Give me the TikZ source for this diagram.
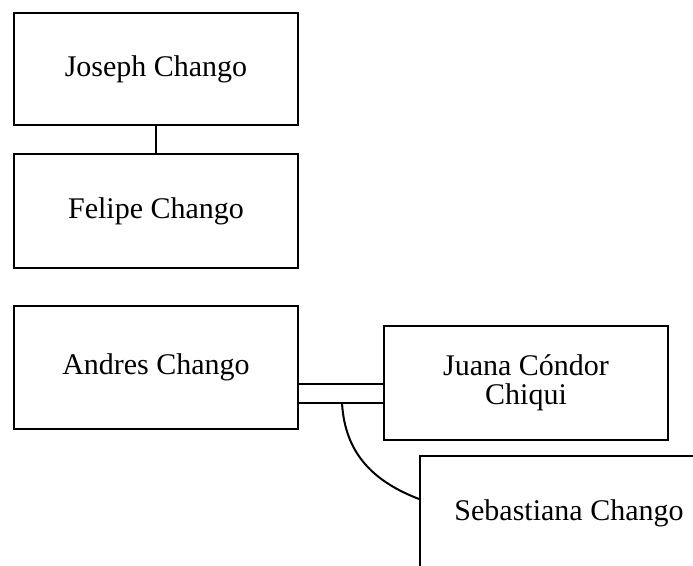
\documentclass[tikz,border=0pt]{standalone}
\usepackage{fontspec}
\setmainfont{Liberation Serif}
\begin{document}
\begin{tikzpicture}[x=1pt,y=-1pt,
  person/.style={draw,line width=2pt,rectangle,inner sep=0pt,align=center,
    font=\fontsize{30}{29}\selectfont,minimum width=284pt},
  link/.style={line width=2pt}]
\useasboundingbox (0,0) rectangle (693,565);
\node[person,minimum height=112pt] (joseph) at (156,69) {Joseph Chango};
\node[person,minimum height=114pt] (felipe) at (156,211) {Felipe Chango};
\node[person,minimum height=123pt] (andres) at (156,367.5) {Andres Chango};
\node[person,minimum height=114pt] (juana) at (526,383) {Juana Cóndor\\Chiqui};
\node[person,minimum height=114pt,minimum width=298pt] (seb) at (569,513) {Sebastiana Chango};
\draw[link] (joseph.south) -- (felipe.north);
\coordinate (m1) at (340,384);
\coordinate (m2) at (342,403);
\coordinate (e) at (420,499);
\draw[link] (andres.east |- m1) -- (juana.west |- m1);
\draw[link] (andres.east |- m2) -- (juana.west |- m2);
\draw[link] (m2) .. controls (345,455) and (375,482) .. (seb.west |- e);
\end{tikzpicture}
\end{document}
